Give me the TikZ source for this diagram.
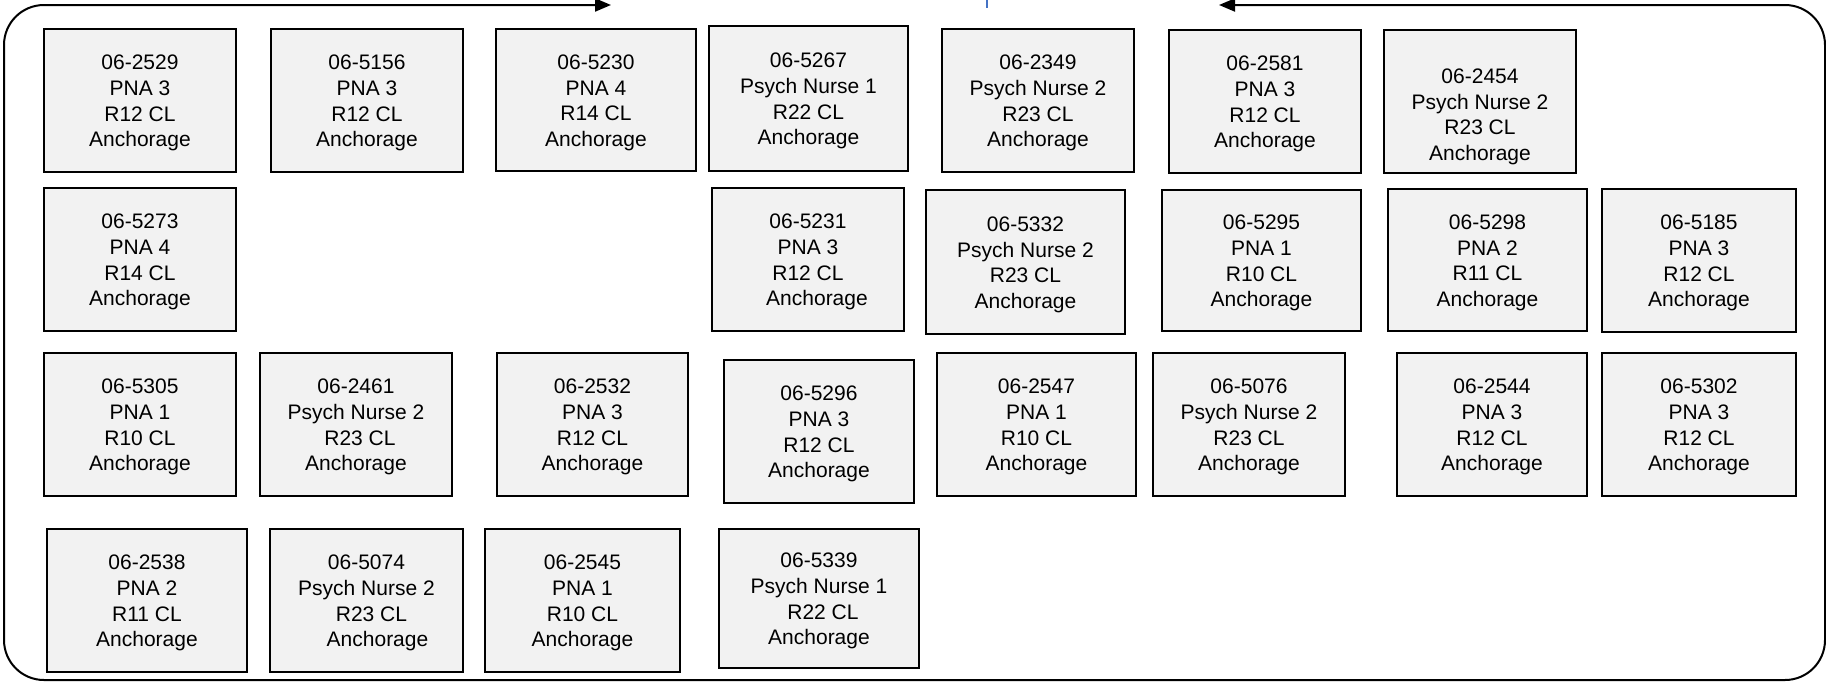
\documentclass[tikz,border=0pt]{standalone}
\usepackage{fontspec}
\setmainfont{Liberation Sans}
\usetikzlibrary{arrows.meta}
\definecolor{boxfill}{HTML}{F2F2F2}
\definecolor{tickblue}{HTML}{4472C4}
\tikzset{
  bx/.style={draw=black, fill=boxfill, line width=0.8pt, inner sep=0pt,
    align=center, font=\fontsize{10.5}{12.8}\selectfont},
  frame/.style={draw=black, line width=1pt, rounded corners=20pt,
    >={Triangle[length=8pt,width=6.5pt]}}
}
\newcommand\bx[6]{%
  \pgfmathsetmacro\bxw{(#4-#2)*0.5}%
  \pgfmathsetmacro\bxh{(#5-#3)*0.5}%
  \node[bx, minimum width=\bxw pt, minimum height=\bxh pt] (#1) at ({(#2+#4)/2},{(#3+#5)/2}) {\rule{0pt}{10pt}#6};%
}
\newcommand\sh[1]{\hspace*{#1}}
\begin{document}
\begin{tikzpicture}[x=0.5pt,y=-0.5pt]
\useasboundingbox (0,0) rectangle (1826,681);
% outer frame with arrows
\coordinate (ltip) at (611,5);
\coordinate (rtip) at (1219,5);
\draw[frame, <->] (ltip) -- (4,5) -- (4,680) -- (1825,680) -- (1825,5) -- (rtip);
\coordinate (tickA) at (987,0);
\coordinate (tickB) at (987,8);
\draw[tickblue, line width=0.6pt] (tickA) -- (tickB);
% row 1
\bx{b2529}{44}{29}{236}{172}{06-2529\\PNA 3\\R12 CL\\Anchorage}
\bx{b5156}{271}{29}{463}{172}{06-5156\\PNA 3\\R12 CL\\Anchorage}
\bx{b5230}{496}{29}{696}{171}{06-5230\\PNA 4\\R14 CL\\Anchorage}
\bx{b5267}{709}{26}{908}{171}{06-5267\\Psych Nurse 1\\R22 CL\\Anchorage}
\bx{b2349}{942}{29}{1134}{172}{06-2349\\Psych Nurse 2\\R23 CL\\Anchorage}
\bx{b2581}{1169}{30}{1361}{173}{06-2581\\PNA 3\\R12 CL\\Anchorage}
\bx{b2454}{1384}{30}{1576}{173}{\rule{0pt}{22.5pt}06-2454\\Psych Nurse 2\\R23 CL\\Anchorage}
% row 2
\bx{b5273}{44}{188}{236}{331}{06-5273\\PNA 4\\R14 CL\\Anchorage}
\bx{b5231}{712}{188}{904}{331}{06-5231\\PNA 3\\R12 CL\\\sh{9pt}Anchorage}
\bx{b5332}{926}{190}{1125}{334}{06-5332\\Psych Nurse 2\\R23 CL\\Anchorage}
\bx{b5295}{1162}{190}{1361}{331}{06-5295\\PNA 1\\R10 CL\\Anchorage}
\bx{b5298}{1388}{189}{1587}{331}{06-5298\\PNA 2\\R11 CL\\Anchorage}
\bx{b5185}{1602}{189}{1796}{332}{06-5185\\PNA 3\\R12 CL\\Anchorage}
% row 3
\bx{b5305}{44}{353}{236}{496}{06-5305\\PNA 1\\R10 CL\\Anchorage}
\bx{b2461}{260}{353}{452}{496}{06-2461\\Psych Nurse 2\\\sh{4pt}R23 CL\\Anchorage}
\bx{b2532}{497}{353}{688}{496}{06-2532\\PNA 3\\R12 CL\\Anchorage}
\bx{b5296}{724}{360}{914}{503}{06-5296\\PNA 3\\R12 CL\\Anchorage}
\bx{b2547}{937}{353}{1136}{496}{06-2547\\PNA 1\\R10 CL\\Anchorage}
\bx{b5076}{1153}{353}{1345}{496}{06-5076\\Psych Nurse 2\\R23 CL\\Anchorage}
\bx{b2544}{1397}{353}{1587}{496}{06-2544\\PNA 3\\R12 CL\\Anchorage}
\bx{b5302}{1602}{353}{1796}{496}{06-5302\\PNA 3\\R12 CL\\Anchorage}
% row 4
\bx{b2538}{47}{529}{247}{672}{06-2538\\PNA 2\\R11 CL\\Anchorage}
\bx{b5074}{270}{529}{463}{672}{06-5074\\Psych Nurse 2\\\sh{5pt}R23 CL\\\sh{11pt}Anchorage}
\bx{b2545}{485}{529}{680}{672}{06-2545\\PNA 1\\R10 CL\\Anchorage}
\bx{b5339}{719}{529}{919}{668}{06-5339\\Psych Nurse 1\\\sh{4pt}R22 CL\\Anchorage}
\end{tikzpicture}
\end{document}
